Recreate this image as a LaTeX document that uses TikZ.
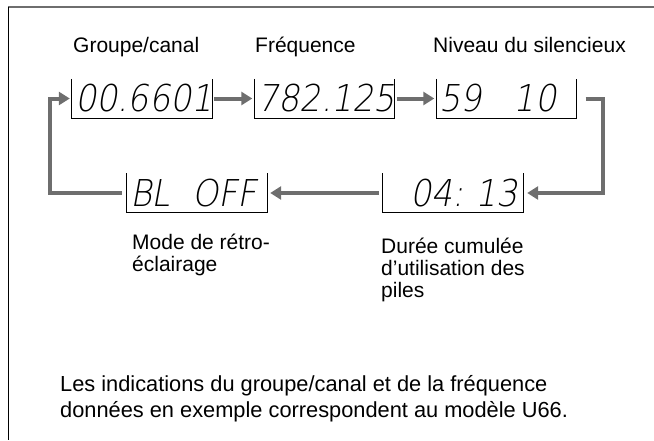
\documentclass[tikz,border=0pt]{standalone}
\usepackage{fontspec}
\setmainfont{Liberation Sans}
\newfontfamily\lcdfont{DejaVu Sans ExtraLight}[FakeSlant=0.18,FakeStretch=0.9]
\usetikzlibrary{arrows.meta}
\definecolor{loopgray}{RGB}{110,110,110}
\tikzset{
	lcd/.style={inner xsep=3pt,inner ysep=0pt,text width=134pt,minimum height=39pt,align=left,font=\lcdfont\fontsize{37}{37}\selectfont},
	flow/.style={draw=loopgray,line width=4pt,-{Triangle[length=11pt,width=13pt]}},
	lbl/.style={inner sep=0pt,anchor=base west,align=left,font=\fontsize{21}{22}\selectfont}
}
\begin{document}
\begin{tikzpicture}[x=1pt,y=-1pt]
			\useasboundingbox (0,0) rectangle (654,440);
			\draw[loopgray,line width=2pt] (8,7)--(654,7);
			\draw[line width=1pt] (8,7)--(8,440);
			% titles
			\node[lbl] (tgc) at (73,52) {Groupe/canal};
			\node[lbl] (tfrq) at (255,52) {Fréquence};
			\node[lbl] (tsq) at (433,52) {Niveau du silencieux};
			% displays
			\node[lcd] (gc) at (142,98.5) {00.6601};
			\node[lcd] (frq) at (324.5,98.5) {782.125};
			\node[lcd] (sq) at (506.5,98.5) {59\hspace{32pt}10};
			\node[lcd] (bl) at (197,193) {BL\hspace{22pt}OFF};
			\node[lcd] (bat) at (453,193) {\hspace{24pt}04:\hspace{12pt}13};
			\foreach \b in {gc,frq,sq,bl,bat}
				\draw[line width=.8pt] (\b.north west)--(\b.south west)--(\b.south east)--(\b.north east);
			% loop
			\draw[flow] ([xshift=2pt]gc.east)--([xshift=-2pt]frq.west);
			\draw[flow] ([xshift=2pt]frq.east)--([xshift=-2pt]sq.west);
			\draw[flow] ([xshift=9pt]sq.east)-|([xshift=80pt]bat.east)--([xshift=4pt]bat.east);
			\draw[flow] ([xshift=-4pt]bat.west)--([xshift=3pt]bl.east);
			\draw[flow] ([xshift=-5pt]bl.west)-|([xshift=-22pt]gc.west)--([xshift=-2pt]gc.west);
			% captions (base = last line)
			\node[lbl] (cbl) at (132,271) {Mode de rétro-\\éclairage};
			\node[lbl] (cbat) at (381,297) {Durée cumulée\\d’utilisation des\\piles};
			\node[lbl,font=\fontsize{21.8}{26}\selectfont] (note) at (60,417) {Les indications du groupe/canal et de la fréquence\\données en exemple correspondent au modèle U66.};
		    \end{tikzpicture}
\end{document}
